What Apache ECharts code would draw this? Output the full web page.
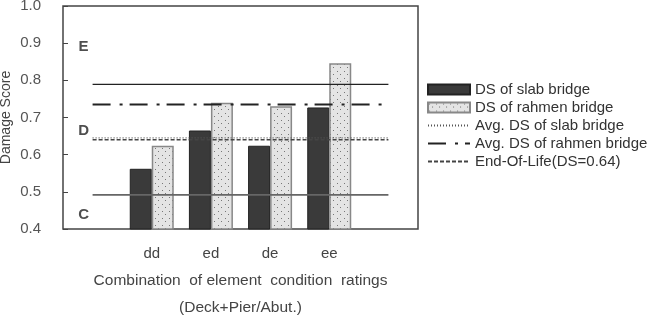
<!DOCTYPE html>
<html>
<head>
<meta charset="utf-8">
<script src="https://cdn.jsdelivr.net/npm/echarts@6/dist/echarts.min.js"></script>
<style>
  html, body { margin: 0; padding: 0; background: #fff; }
  #chart { width: 659px; height: 320px; }
</style>
</head>
<body>
<div id="chart"></div>
<script>
// categories (blank slots at both ends give the empty margins)
var categories = ['', 'dd', 'ed', 'de', 'ee', ''];
var slabDS = [null, 0.562, 0.665, 0.624, 0.727, null];
var rahmenDS = [null, 0.624, 0.740, 0.730, 0.846, null];
var avgSlab = [0.645, 0.645, 0.645, 0.645, 0.645, 0.645];
var avgRahmen = [0.735, 0.735, 0.735, 0.735, 0.735, 0.735];
var endOfLife = [0.64, 0.64, 0.64, 0.64, 0.64, 0.64];
var gradeUpper = [0.789, 0.789, 0.789, 0.789, 0.789, 0.789];
var gradeLower = [0.492, 0.492, 0.492, 0.492, 0.492, 0.492];
var gradeLetters = ['E', 'D', 'C'];
var gradeLetterY = [0.89, 0.665, 0.438];

var FONT = 'Liberation Sans, Arial, sans-serif';

// dotted fill for the rahmen bars
function dotPattern() {
    var c = document.createElement('canvas');
    c.width = 7; c.height = 7;
    var ctx = c.getContext('2d');
    ctx.fillStyle = '#e4e4e4';
    ctx.fillRect(0, 0, 7, 7);
    ctx.fillStyle = '#777';
    ctx.fillRect(1, 1, 1, 1);
    ctx.fillRect(4, 4, 1, 1);
    return c;
}

var myChart = echarts.init(document.getElementById('chart'));

var letterData = gradeLetters.map(function (t, i) {
    return { value: [0, gradeLetterY[i]], label: { formatter: t } };
});

var hideDot = { opacity: 0 };

option = {
    animation: false,
    backgroundColor: '#fff',
    grid: {
        left: 63, right: 241, top: 6, bottom: 91,
        outerBoundsMode: 'none',
        show: true, borderColor: '#444', borderWidth: 1.5
    },
    legend: {
        orient: 'vertical',
        left: 427, top: 82,
        padding: 0,
        itemWidth: 42, itemHeight: 10, itemGap: 3,
        textStyle: { fontFamily: FONT, fontSize: 15, color: '#333' },
        data: [
            { name: 'DS of slab bridge', icon: 'rect' },
            { name: 'DS of rahmen bridge', icon: 'rect' },
            { name: 'Avg. DS of slab bridge', itemStyle: hideDot },
            { name: 'Avg. DS of rahmen bridge', itemStyle: hideDot },
            { name: 'End-Of-Life(DS=0.64)', itemStyle: hideDot }
        ]
    },
    xAxis: {
        type: 'category',
        data: categories,
        axisLine: { show: false },
        axisTick: { show: false },
        axisLabel: { fontFamily: FONT, fontSize: 15, color: '#444', margin: 17, interval: 0 },
        name: 'Combination  of element  condition  ratings\n(Deck+Pier/Abut.)',
        nameLocation: 'middle',
        nameGap: 38,
        nameMoveOverlap: false,
        nameTextStyle: { fontFamily: FONT, fontSize: 15.5, color: '#444', lineHeight: 27 }
    },
    yAxis: {
        type: 'value',
        min: 0.4, max: 1.0, interval: 0.1,
        splitLine: { show: false },
        axisLine: { show: false },
        axisTick: { show: true, inside: true, length: 5, lineStyle: { color: '#444' } },
        axisLabel: {
            fontFamily: FONT, fontSize: 15, color: '#555', margin: 22,
            formatter: function (v) { return v.toFixed(1); }
        },
        name: 'Damage Score',
        nameLocation: 'middle',
        nameGap: 50,
        nameMoveOverlap: false,
        nameTextStyle: { fontFamily: FONT, fontSize: 14, color: '#444' }
    },
    series: [
        {
            name: 'DS of slab bridge',
            type: 'bar',
            barWidth: 22,
            barGap: '0%',
            data: slabDS,
            itemStyle: { color: '#3a3a3a', borderColor: '#222', borderWidth: 1 }
        },
        {
            name: 'DS of rahmen bridge',
            type: 'bar',
            barWidth: 22,
            data: rahmenDS,
            itemStyle: {
                color: { image: dotPattern(), repeat: 'repeat' },
                borderColor: '#888', borderWidth: 1.5
            }
        },
        {
            name: 'grade upper',
            type: 'line', symbol: 'none', z: 5,
            data: gradeUpper,
            lineStyle: { color: '#222', width: 1.3, type: 'solid' }
        },
        {
            name: 'grade lower',
            type: 'line', symbol: 'none', z: 5,
            data: gradeLower,
            lineStyle: { color: '#666', width: 1.8, type: 'solid' }
        },
        {
            name: 'Avg. DS of slab bridge',
            type: 'line', symbol: 'none', z: 5,
            data: avgSlab,
            itemStyle: { color: '#555' },
            lineStyle: { color: '#555', width: 1.2, type: [1, 2] }
        },
        {
            name: 'Avg. DS of rahmen bridge',
            type: 'line', symbol: 'none', z: 5,
            data: avgRahmen,
            itemStyle: { color: '#222' },
            lineStyle: { color: '#222', width: 2.2, type: [18, 9, 3, 7] }
        },
        {
            name: 'End-Of-Life(DS=0.64)',
            type: 'line', symbol: 'none', z: 5,
            data: endOfLife,
            itemStyle: { color: '#444' },
            lineStyle: { color: '#444', width: 1.5, type: [4, 2] }
        },
        {
            name: 'grades',
            type: 'scatter',
            symbolSize: 0,
            silent: true,
            data: letterData,
            label: {
                show: true, position: 'inside', offset: [-9, 0],
                fontFamily: FONT, fontSize: 15, fontWeight: 'bold', color: '#222'
            }
        }
    ]
};

myChart.setOption(option);
</script>
</body>
</html>
